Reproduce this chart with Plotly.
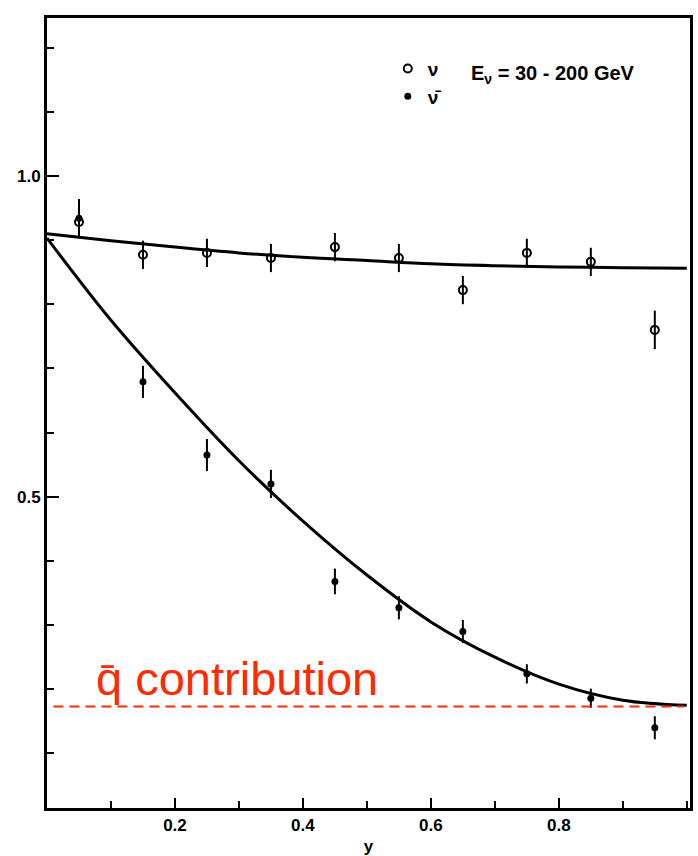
import plotly.graph_objects as go

# --- data ---
y_bins = [0.05, 0.15, 0.25, 0.35, 0.45, 0.55, 0.65, 0.75, 0.85, 0.95]
nu_vals = [0.928, 0.877, 0.880, 0.872, 0.889, 0.872, 0.822, 0.880, 0.866, 0.760]
nu_errs = [0.025, 0.022, 0.022, 0.022, 0.022, 0.022, 0.022, 0.022, 0.022, 0.030]
nubar_vals = [0.934, 0.679, 0.565, 0.520, 0.368, 0.327, 0.290, 0.224, 0.186, 0.140]
nubar_errs = [0.030, 0.025, 0.025, 0.022, 0.020, 0.018, 0.018, 0.015, 0.015, 0.018]

curve_x = [0.0, 0.1, 0.2, 0.3, 0.4, 0.5, 0.6, 0.7, 0.8, 0.9, 1.0]
nu_curve = [0.910, 0.899, 0.889, 0.880, 0.873, 0.868, 0.863, 0.860, 0.858, 0.857, 0.856]
nubar_curve = [0.903, 0.775, 0.662, 0.556, 0.462, 0.378, 0.305, 0.250, 0.208, 0.183, 0.175]

qbar_level = 0.173
qbar_x = [0.01, 0.995]

x_tickvals = [0.2, 0.4, 0.6, 0.8]
x_ticktext = ["0.2", "0.4", "0.6", "0.8"]
y_tickvals = [0.5, 1.0]
y_ticktext = ["0.5", "1.0"]

fig = go.Figure()

fig.add_trace(go.Scatter(x=curve_x, y=nu_curve, mode="lines", line=dict(color="black", width=3, shape="spline"),
                         showlegend=False, hoverinfo="skip"))
fig.add_trace(go.Scatter(x=curve_x, y=nubar_curve, mode="lines", line=dict(color="black", width=3, shape="spline"),
                         showlegend=False, hoverinfo="skip"))

fig.add_trace(go.Scatter(x=y_bins, y=nu_vals, mode="markers", name="ν",
                         marker=dict(symbol="circle-open", size=8, color="black", line=dict(width=2)),
                         error_y=dict(type="data", array=nu_errs, color="black", thickness=2, width=0)))
fig.add_trace(go.Scatter(x=y_bins, y=nubar_vals, mode="markers", name="ν\u0304",
                         marker=dict(symbol="circle", size=7, color="black"),
                         error_y=dict(type="data", array=nubar_errs, color="black", thickness=2, width=0)))

fig.add_trace(go.Scatter(x=qbar_x, y=[qbar_level, qbar_level], mode="lines",
                         line=dict(color="#ff2a00", width=2, dash="10px,6px"),
                         showlegend=False, hoverinfo="skip"))

fig.add_annotation(x=0.073, y=qbar_level, xref="x", yref="y", xanchor="left", yanchor="bottom", yshift=0,
                   text="q\u0304 contribution", showarrow=False,
                   font=dict(family="Liberation Sans, Arial", size=47, color="#ff2a00"))

fig.add_annotation(x=0.66, y=1.158, xref="x", yref="y", xanchor="left", yanchor="middle",
                   text="E<sub>ν</sub> = 30 - 200 GeV", showarrow=False,
                   font=dict(family="Liberation Sans, Arial", size=20, color="black", weight="bold"))

fig.update_layout(
    width=698, height=856,
    margin=dict(l=47, r=8, t=18, b=48),
    paper_bgcolor="white", plot_bgcolor="white",
    font=dict(family="Liberation Sans, Arial", color="black"),
    legend=dict(x=0.53, y=0.96, xanchor="left", yanchor="top", bgcolor="rgba(0,0,0,0)",
                font=dict(size=19, weight="bold"), tracegroupgap=0, itemwidth=30),
    showlegend=True,
)

fig.update_xaxes(range=[0, 1.005], showgrid=False, zeroline=False, automargin=False,
                 showline=True, linecolor="black", linewidth=3, mirror=True,
                 ticks="inside", ticklen=10, tickwidth=2, tickcolor="black",
                 tickvals=x_tickvals, ticktext=x_ticktext,
                 minor=dict(ticks="inside", ticklen=7, tickwidth=2, tickcolor="black", dtick=0.1, showgrid=False),
                 tickfont=dict(size=17, weight="bold"),
                 title=dict(text="y", font=dict(size=17, weight="bold"), standoff=8))
fig.update_yaxes(range=[0.015, 1.246], showgrid=False, zeroline=False, automargin=False,
                 showline=True, linecolor="black", linewidth=3, mirror=True,
                 ticks="inside", ticklen=12, tickwidth=2, tickcolor="black",
                 tickvals=y_tickvals, ticktext=y_ticktext,
                 minor=dict(ticks="inside", ticklen=7, tickwidth=2, tickcolor="black", dtick=0.1, showgrid=False),
                 tickfont=dict(size=17, weight="bold"))

fig.write_html("out.html")
